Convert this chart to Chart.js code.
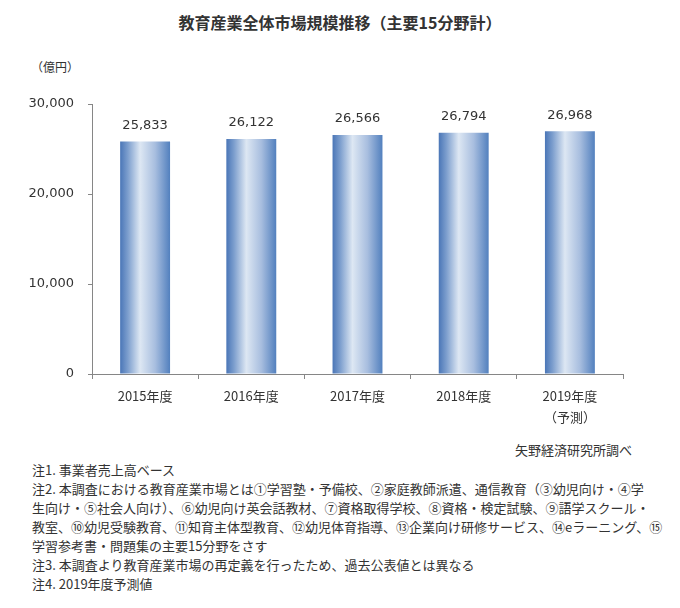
<!DOCTYPE html>
<html lang="ja">
<head>
<meta charset="utf-8">
<script src="https://cdn.jsdelivr.net/npm/chart.js@4.4.1/dist/chart.umd.min.js"></script>
<style>
    body { margin: 0; background: #fff; width: 680px; height: 608px; overflow: hidden; position: relative; font-family: "Noto Sans CJK JP", sans-serif; color: #333; }
    #chart { position: absolute; left: 0; top: 0; }
    .title { position: absolute; left: 0; width: 680px; top: 12px; text-align: center; font-size: 16px; font-weight: bold; line-height: 20px; }
    .unit { position: absolute; left: 31px; top: 58px; font-size: 12px; line-height: 18px; }
    .source { position: absolute; right: 48px; top: 441px; font-size: 13px; line-height: 18px; }
    .notes { position: absolute; left: 32px; top: 460px; font-size: 13px; line-height: 19px; white-space: nowrap; }
</style>
</head>
<body>
<div class="title">教育産業全体市場規模推移（主要15分野計）</div>
<div class="unit">（億円）</div>
<canvas id="chart" width="680" height="440"></canvas>
<div class="source">矢野経済研究所調べ</div>
<div class="notes">
    <div>注1. 事業者売上高ベース</div>
    <div>注2. 本調査における教育産業市場とは①学習塾・予備校、②家庭教師派遣、通信教育（③幼児向け・④学</div>
    <div>生向け・⑤社会人向け）、⑥幼児向け英会話教材、⑦資格取得学校、⑧資格・検定試験、⑨語学スクール・</div>
    <div>教室、⑩幼児受験教育、⑪知育主体型教育、⑫幼児体育指導、⑬企業向け研修サービス、⑭eラーニング、⑮</div>
    <div>学習参考書・問題集の主要15分野をさす</div>
    <div>注3. 本調査より教育産業市場の再定義を行ったため、過去公表値とは異なる</div>
    <div>注4. 2019年度予測値</div>
</div>
<script>
    const categories = ['2015年度', '2016年度', '2017年度', '2018年度', ['2019年度', '（予測）']];
    const marketSize = [25833, 26122, 26566, 26794, 26968];
    const yMin = 0;
    const yMax = 30000;
    const yStep = 10000;

    const axisColor = '#868686';
    const textColor = '#333333';

    // horizontal gradient on each bar, like the original Excel fill
    const barGradient = {
        id: 'barGradient',
        beforeDatasetsDraw(chart) {
            const ctx = chart.ctx;
            chart.getDatasetMeta(0).data.forEach(bar => {
                const left = bar.x - bar.width / 2;
                const g = ctx.createLinearGradient(left, 0, left + bar.width, 0);
                g.addColorStop(0, '#4a76b7');
                g.addColorStop(0.15, '#7b9dcd');
                g.addColorStop(0.4, '#dde7f3');
                g.addColorStop(0.7, '#a8bedf');
                g.addColorStop(1, '#5280be');
                bar.options.backgroundColor = g;
            });
        }
    };

    // value labels above the bars
    const valueLabels = {
        id: 'valueLabels',
        afterDatasetsDraw(chart) {
            const ctx = chart.ctx;
            ctx.save();
            ctx.font = '13px "DejaVu Sans"';
            ctx.fillStyle = textColor;
            ctx.textAlign = 'center';
            ctx.textBaseline = 'middle';
            chart.getDatasetMeta(0).data.forEach((bar, i) => {
                ctx.fillText(marketSize[i].toLocaleString('en-US'), bar.x, bar.y - 16);
            });
            ctx.restore();
        }
    };

    new Chart(document.getElementById('chart'), {
        type: 'bar',
        data: {
            labels: categories,
            datasets: [{
                data: marketSize,
                // scriptable so every bar gets its own options object
                backgroundColor: c => '#7b9dcd',
                borderWidth: 0,
                categoryPercentage: 1,
                barPercentage: 0.47
            }]
        },
        options: {
            responsive: false,
            animation: false,
            devicePixelRatio: 1,
            layout: { padding: { left: 0, right: 57, top: 104, bottom: 0 } },
            plugins: {
                legend: { display: false },
                tooltip: { enabled: false }
            },
            scales: {
                x: {
                    grid: { drawOnChartArea: false, color: axisColor, tickLength: 5, offset: true },
                    border: { color: axisColor },
                    ticks: {
                        color: textColor,
                        padding: 6,
                        font: { family: '"Noto Sans CJK JP"', size: 13, lineHeight: '21.5px' }
                    },
                    afterFit(scale) { scale.height = 66; }
                },
                y: {
                    min: yMin,
                    max: yMax,
                    grid: { drawOnChartArea: false, color: axisColor, tickLength: 4 },
                    border: { color: axisColor },
                    ticks: {
                        stepSize: yStep,
                        color: textColor,
                        padding: 14,
                        font: { family: '"DejaVu Sans"', size: 13 },
                        callback: v => v.toLocaleString('en-US')
                    },
                    afterFit(scale) { scale.width = 92; }
                }
            }
        },
        plugins: [barGradient, valueLabels]
    });
</script>
</body>
</html>
